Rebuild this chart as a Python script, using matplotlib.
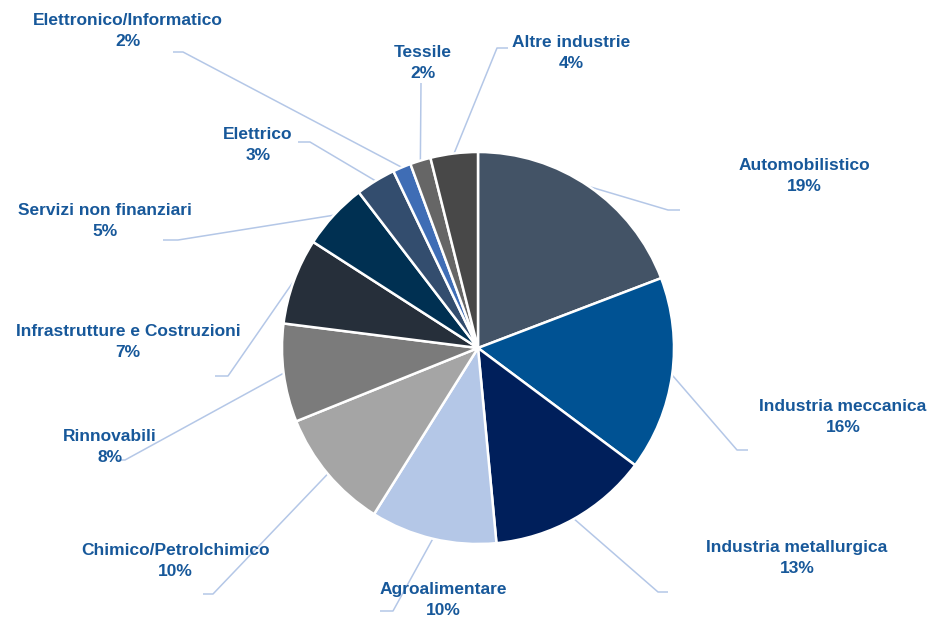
import numpy as np
import matplotlib.pyplot as plt

# Dati (quota per settore, %)
settori = ['Automobilistico', 'Industria meccanica', 'Industria metallurgica',
           'Agroalimentare', 'Chimico/Petrolchimico', 'Rinnovabili',
           'Infrastrutture e Costruzioni', 'Servizi non finanziari', 'Elettrico',
           'Elettronico/Informatico', 'Tessile', 'Altre industrie']
quote = [19.2, 16.0, 13.3, 10.4, 10.0, 8.1, 7.1, 5.5, 3.3, 1.5, 1.7, 3.9]
etichette_pct = ['19%', '16%', '13%', '10%', '10%', '8%', '7%', '5%', '3%', '2%', '2%', '4%']

colori = ['#435366', '#005293', '#001F5B', '#B4C7E7', '#A5A5A5', '#7B7B7B',
          '#262F3A', '#003052', '#334D6E', '#3F6DB5', '#666666', '#484848']

# posizioni etichette (px) e gomito della linea guida (px)
pos_label = [(804, 176), (843, 417), (797, 558), (443, 600), (175, 561), (110, 447),
             (128, 342), (105, 221), (258, 145), (128, 31), (423, 63), (571, 53)]
gomito = [(668, 210), (737, 450), (658, 592), (393, 611), (213, 594), (125, 460),
          (228, 376), (178, 240), (310, 142), (183, 52), (421, 83), (497, 48)]
fine = [(680, 210), (748, 450), (668, 592), (380, 611), (203, 594), (118, 460),
        (215, 376), (163, 240), (298, 142), (173, 52), (421, 83), (508, 48)]

W, H = 931, 618
cx, cy, R = 478, 348, 196
COL_TESTO = '#17589A'
COL_LINEA = '#B4C7E7'

fig = plt.figure(figsize=(W / 100, H / 100), dpi=100)
ax = fig.add_axes([0, 0, 1, 1])

wedges, _ = ax.pie(quote, colors=colori, startangle=90, counterclock=False,
                   center=(cx, H - cy), radius=R, frame=True,
                   wedgeprops=dict(edgecolor='white', linewidth=1.8))
ax.set_xlim(0, W)
ax.set_ylim(0, H)
ax.set_aspect('equal')
ax.axis('off')

for w, nome, pct, (lx, ly), (gx, gy), (fx, fy) in zip(wedges, settori, etichette_pct,
                                                       pos_label, gomito, fine):
    ang = np.deg2rad((w.theta1 + w.theta2) / 2)
    sx = cx + R * np.cos(ang)
    sy = (H - cy) + R * np.sin(ang)
    ax.plot([sx, gx, fx], [sy, H - gy, H - fy], color=COL_LINEA, lw=1.1,
            solid_capstyle='butt', zorder=0)
    ax.text(lx, H - ly, f'{nome}\n{pct}', ha='center', va='center',
            fontsize=12.5, fontweight='bold', color=COL_TESTO,
            family='Liberation Sans', linespacing=1.45)

fig.savefig('out.png', dpi=100, facecolor='white')
